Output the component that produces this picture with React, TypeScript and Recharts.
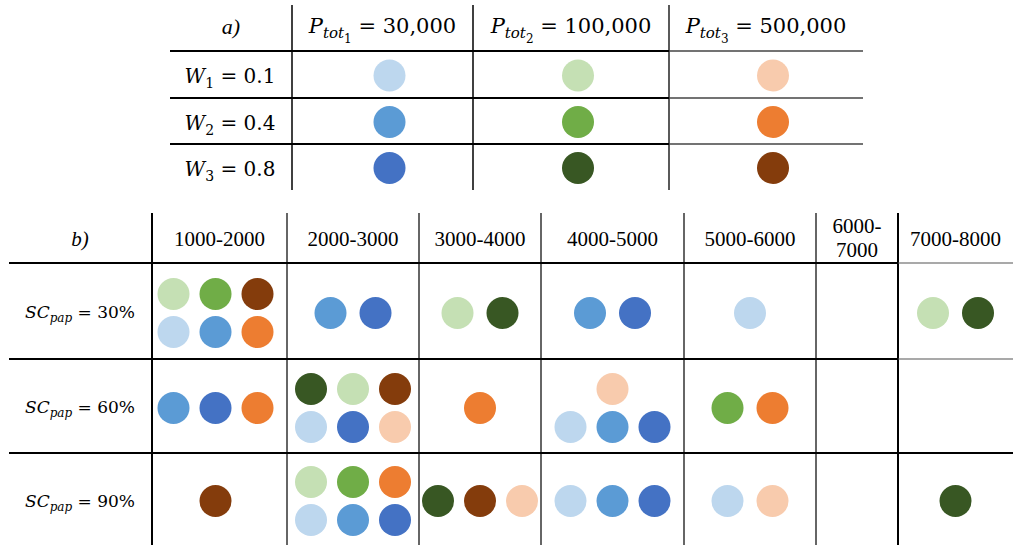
import React from 'react';
import { ScatterChart, Scatter, XAxis, YAxis, ReferenceLine, Customized } from 'recharts';

// a) table: total population levels (columns) and weights (rows)
const powerLevels = ['30,000', '100,000', '500,000'];
const weightLevels = ['0.1', '0.4', '0.8'];

// b) table: class ranges (columns) and SC_pap levels (rows)
const classRanges = ['1000-2000', '2000-3000', '3000-4000', '4000-5000', '5000-6000', '6000-7000', '7000-8000'];
const scLevels = ['30%', '60%', '90%'];

// cell contents: each cell is a list of lines, each line a list of series (P index, W index)
const sc30 = [
  [['P2W1', 'P2W2', 'P3W3'], ['P1W1', 'P1W2', 'P3W2']],
  [['P1W2', 'P1W3']],
  [['P2W1', 'P2W3']],
  [['P1W2', 'P1W3']],
  [['P1W1']],
  [],
  [['P2W1', 'P2W3']],
];
const sc60 = [
  [['P1W2', 'P1W3', 'P3W2']],
  [['P2W3', 'P2W1', 'P3W3'], ['P1W1', 'P1W3', 'P3W1']],
  [['P3W2']],
  [['P3W1'], ['P1W1', 'P1W2', 'P1W3']],
  [['P2W2', 'P3W2']],
  [],
  [],
];
const sc90 = [
  [['P3W3']],
  [['P2W1', 'P2W2', 'P3W2'], ['P1W1', 'P1W2', 'P1W3']],
  [['P2W3', 'P3W3', 'P3W1']],
  [['P1W1', 'P1W2', 'P1W3']],
  [['P1W1', 'P3W1']],
  [],
  [['P2W3']],
];

const seriesColors: Record<string, string> = {
  P1W1: '#BDD7EE', P1W2: '#5B9BD5', P1W3: '#4472C4',
  P2W1: '#C5E0B4', P2W2: '#70AD47', P2W3: '#385723',
  P3W1: '#F8CBAD', P3W2: '#ED7D31', P3W3: '#843C0C',
};
const seriesKeys = Object.keys(seriesColors);

// layout (pixel units of the chart)
const W = 1013;
const H = 545;
const A_COLS = [170, 292, 473, 669, 863];
const A_ROWS = [5, 51, 98, 144, 190];
const B_COLS = [9, 152, 287, 419, 541, 684, 816, 898, 1013];
const B_ROWS = [213, 263, 359, 453, 545];
const R = 16;

type Pt = { x: number; y: number };
const points: Record<string, Pt[]> = {};
seriesKeys.forEach((k) => (points[k] = []));

weightLevels.forEach((_, wi) =>
  powerLevels.forEach((_, pi) => {
    points[`P${pi + 1}W${wi + 1}`].push({
      x: (A_COLS[pi + 1] + A_COLS[pi + 2]) / 2 + 7,
      y: (A_ROWS[wi + 1] + A_ROWS[wi + 2]) / 2 + 1,
    });
  })
);

[sc30, sc60, sc90].forEach((row, ri) =>
  row.forEach((cell, ci) => {
    const cx = (B_COLS[ci + 1] + B_COLS[ci + 2]) / 2 - (ci === 0 ? 4 : 0);
    const cy = (B_ROWS[ri + 1] + B_ROWS[ri + 2]) / 2 + 2;
    cell.forEach((line, li) => {
      const gap = line.length >= 3 ? 42 : 45;
      const ly = cy + (li - (cell.length - 1) / 2) * 38;
      line.forEach((key, k) => points[key].push({ x: cx + (k - (line.length - 1) / 2) * gap, y: ly }));
    });
  })
);

type Seg = { x1: number; y1: number; x2: number; y2: number; w: number; c: string };
const lines: Seg[] = [];
[1, 2, 3].forEach((i) => lines.push({ x1: A_COLS[i], y1: A_ROWS[0], x2: A_COLS[i], y2: A_ROWS[4], w: i === 3 ? 1.3 : 1.5, c: '#000' }));
[1, 2, 3].forEach((i) => {
  lines.push({ x1: A_COLS[0], y1: A_ROWS[i], x2: A_COLS[3], y2: A_ROWS[i], w: 2, c: '#000' });
  lines.push({ x1: A_COLS[3], y1: A_ROWS[i], x2: A_COLS[4], y2: A_ROWS[i], w: 1.3, c: '#444' });
});
[1, 2, 3, 4, 5, 6, 7].forEach((i) =>
  lines.push({ x1: B_COLS[i], y1: B_ROWS[0], x2: B_COLS[i], y2: B_ROWS[4], w: i === 1 || i === 7 ? 2 : 1.5, c: i === 1 || i === 7 ? '#000' : '#333' })
);
[1, 2, 3].forEach((i) => {
  lines.push({ x1: B_COLS[0], y1: B_ROWS[i], x2: B_COLS[7], y2: B_ROWS[i], w: 2, c: '#000' });
  lines.push({ x1: B_COLS[7], y1: B_ROWS[i], x2: B_COLS[8], y2: B_ROWS[i], w: i === 3 ? 2 : 1.2, c: i === 3 ? '#000' : '#555' });
});

const mathFont = "'DejaVu Serif', serif";
const timesFont = "'Liberation Serif', 'Times New Roman', serif";

function TableText() {
  return (
    <g fill="#000">
      <text x={231} y={34} textAnchor="middle" fontFamily={timesFont} fontStyle="italic" fontSize={22}>a)</text>
      {powerLevels.map((v, i) => (
        <text key={v} x={(A_COLS[i + 1] + A_COLS[i + 2]) / 2} y={33} textAnchor="middle" fontFamily={mathFont} fontSize={21}>
          <tspan fontStyle="italic">P</tspan>
          <tspan fontStyle="italic" fontSize={15} dy={5}>tot</tspan>
          <tspan fontSize={12} dy={5}>{i + 1}</tspan>
          <tspan dy={-10}>{' = ' + v}</tspan>
        </text>
      ))}
      {weightLevels.map((v, i) => (
        <text key={v} x={230} y={[83, 130, 176][i]} textAnchor="middle" fontFamily={mathFont} fontSize={20}>
          <tspan fontStyle="italic">W</tspan>
          <tspan fontSize={14} dy={5}>{i + 1}</tspan>
          <tspan dy={-5}>{' = ' + v}</tspan>
        </text>
      ))}
      <text x={80} y={246} textAnchor="middle" fontFamily={timesFont} fontStyle="italic" fontSize={21}>b)</text>
      {classRanges.map((v, i) => {
        const cx = (B_COLS[i + 1] + B_COLS[i + 2]) / 2;
        const narrow = B_COLS[i + 2] - B_COLS[i + 1] < 100;
        if (narrow) {
          const [a, b] = v.split('-');
          return (
            <text key={v} x={cx} textAnchor="middle" fontFamily={timesFont} fontSize={21}>
              <tspan x={cx} y={233}>{a + '-'}</tspan>
              <tspan x={cx} y={257}>{b}</tspan>
            </text>
          );
        }
        return (
          <text key={v} x={cx} y={246} textAnchor="middle" fontFamily={timesFont} fontSize={21}>{v}</text>
        );
      })}
      {scLevels.map((v, i) => (
        <text key={v} x={80} y={[318, 413, 507][i]} textAnchor="middle" fontFamily={mathFont} fontSize={17}>
          <tspan fontStyle="italic">SC</tspan>
          <tspan fontStyle="italic" fontSize={12} dy={4}>pap</tspan>
          <tspan dy={-4}>{' = ' + v}</tspan>
        </text>
      ))}
    </g>
  );
}

export default function App() {
  return (
    <div style={{ width: W, height: H, background: '#fff' }}>
      <style>{'body{margin:0}'}</style>
      <ScatterChart width={W} height={H} margin={{ top: 0, right: 0, bottom: 0, left: 0 }}>
        <XAxis type="number" dataKey="x" domain={[0, W]} hide />
        <YAxis type="number" dataKey="y" domain={[0, H]} reversed hide />
        {lines.map((s, i) => (
          <ReferenceLine
            key={i}
            segment={[{ x: s.x1, y: s.y1 }, { x: s.x2, y: s.y2 }]}
            stroke={s.c}
            strokeWidth={s.w}
            ifOverflow="visible"
          />
        ))}
        {seriesKeys.map((k) => (
          <Scatter
            key={k}
            name={k}
            data={points[k]}
            fill={seriesColors[k]}
            isAnimationActive={false}
            shape={(p: any) => <circle cx={p.cx} cy={p.cy} r={R} fill={seriesColors[k]} />}
          />
        ))}
        <Customized component={TableText} />
      </ScatterChart>
    </div>
  );
}
